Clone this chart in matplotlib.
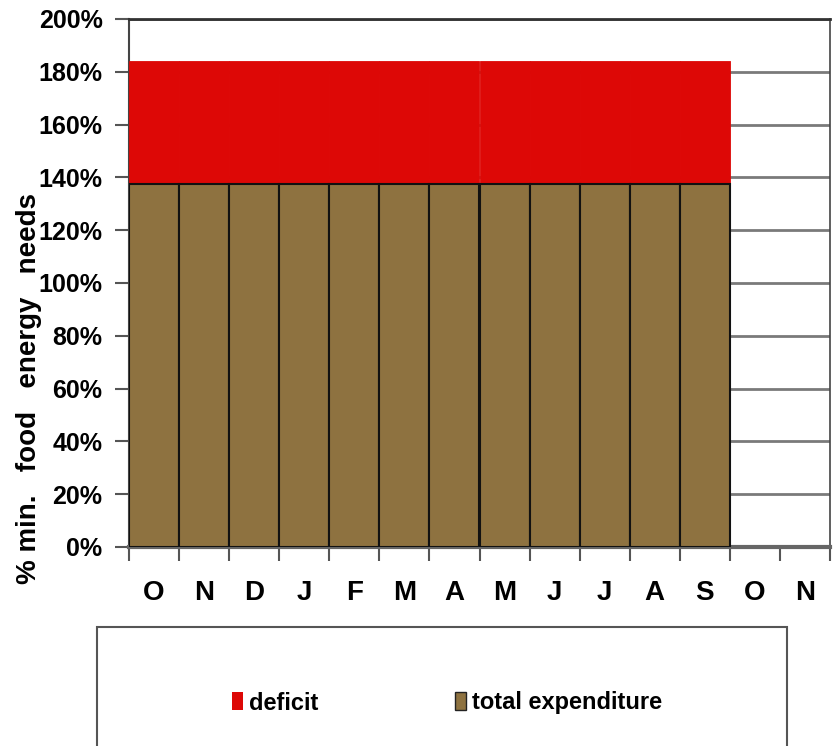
import matplotlib
matplotlib.use("Agg")
import matplotlib.pyplot as plt
from matplotlib.patches import Rectangle, Patch
import numpy as np

months = ["O", "N", "D", "J", "F", "M", "A", "M", "J", "J", "A", "S", "O", "N"]
total_expenditure = [137.5] * 12
deficit = [46.6] * 12
y_ticks = [0, 20, 40, 60, 80, 100, 120, 140, 160, 180, 200]

BROWN = "#8E7240"
RED = "#DD0806"
FONT = ["Liberation Sans", "DejaVu Sans"]

fig = plt.figure(figsize=(8.35, 7.46), dpi=100)
ax = fig.add_axes([129/835, 1-547/746, (830-129)/835, (547-19)/746])

x = np.arange(len(total_expenditure))
ax.bar(x, total_expenditure, width=1.0, color=BROWN, edgecolor="#111111", linewidth=1.5, zorder=3)
ax.bar(x, deficit, bottom=total_expenditure, width=1.0, color=RED, edgecolor=RED,
       linewidth=0.6, zorder=2.9)

ax.set_xlim(-0.5, len(months) - 0.5)
ax.set_ylim(0, 200)
ax.set_yticks(y_ticks)
ax.set_yticklabels([f"{v}%" for v in y_ticks], fontsize=18, fontweight="bold", family=FONT)
ax.yaxis.grid(True, color="#7a7a7a", linewidth=2, zorder=1)
ax.set_axisbelow(True)
ax.tick_params(axis="y", length=10, width=1.5, color="#555555", pad=9)

ax.set_xticks(np.arange(len(months)))
ax.set_xticklabels(months, fontsize=20, fontweight="bold", family=FONT)
ax.set_xticks(np.arange(-0.5, len(months)), minor=True)
ax.tick_params(axis="x", which="major", length=0, pad=24)
ax.tick_params(axis="x", which="minor", length=10, width=1.5, color="#555555")

ax.spines["top"].set_color("#333333"); ax.spines["top"].set_linewidth(2)
ax.spines["right"].set_color("#444444"); ax.spines["right"].set_linewidth(1.2)
ax.spines["left"].set_color("#444444"); ax.spines["left"].set_linewidth(1.5)
ax.spines["bottom"].set_color("#666666"); ax.spines["bottom"].set_linewidth(3)

fig.text(29/835, 1-388/746, "% min.   food   energy   needs", rotation=90,
         ha="center", va="center", fontsize=20, fontweight="bold", family=FONT)

# legend box
fig.patches.append(Rectangle((97/835, -0.01), (787-97)/835, (1-627/746) + 0.01,
                             transform=fig.transFigure, facecolor="white",
                             edgecolor="#555555", linewidth=1.5))
handles = [Patch(facecolor=RED, edgecolor="none", label="deficit"),
           Patch(facecolor=BROWN, edgecolor="#222222", linewidth=1, label="total expenditure")]
fig.legend(handles=handles, loc="center", bbox_to_anchor=(447/835, 1-703/746), ncol=2,
           frameon=False, handlelength=0.45, handleheight=0.8, handletextpad=0.25,
           columnspacing=5.8, prop={"family": FONT, "size": 17, "weight": "bold"})

fig.savefig("out.png", dpi=100)
